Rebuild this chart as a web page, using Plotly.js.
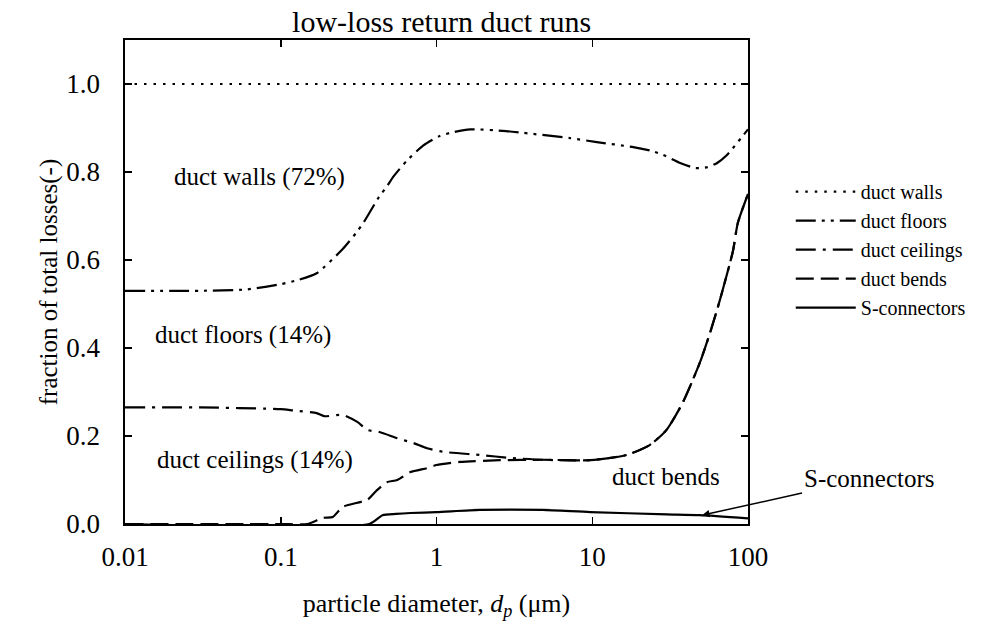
<!DOCTYPE html>
<html>
<head>
<meta charset="utf-8">
<script src="https://cdn.plot.ly/plotly-3.0.1.min.js"></script>
<style>html,body{margin:0;padding:0;background:#fff;}#chart{width:997px;height:640px;}</style>
</head>
<body>
<div id="chart"></div>
<script>
// Cumulative fraction curves
const wallsX = [0.01, 100];
const wallsY = [1.0, 1.0];

const floorsX = [0.01, 0.03, 0.06, 0.1, 0.13, 0.17, 0.25, 0.31, 0.34, 0.43, 0.48, 0.53, 0.65, 0.82, 1.05, 1.3, 1.65, 2.8, 3.6, 7.2, 10.7, 18, 24, 28.5, 37, 46, 55, 63, 73, 100];
const floorsY = [0.53, 0.53, 0.533, 0.545, 0.555, 0.57, 0.625, 0.665, 0.685, 0.745, 0.767, 0.79, 0.827, 0.86, 0.882, 0.891, 0.897, 0.893, 0.889, 0.877, 0.868, 0.857, 0.848, 0.839, 0.82, 0.809, 0.811, 0.82, 0.838, 0.897];

const ceilingsX = [0.01, 0.03, 0.1, 0.12, 0.17, 0.19, 0.25, 0.31, 0.36, 0.43, 0.56, 0.71, 0.87, 1.1, 1.9, 3, 4.8, 9.7, 16.7, 23.5, 30, 38, 49, 57, 66, 80, 86, 100];
const ceilingsY = [0.265, 0.265, 0.261, 0.258, 0.252, 0.245, 0.248, 0.232, 0.214, 0.209, 0.195, 0.184, 0.172, 0.164, 0.157, 0.15, 0.146, 0.145, 0.157, 0.18, 0.214, 0.275, 0.366, 0.434, 0.509, 0.62, 0.684, 0.75];

const bendsX = [0.01, 0.1, 0.148, 0.187, 0.216, 0.25, 0.36, 0.415, 0.48, 0.56, 0.68, 0.87, 1.0, 1.42, 2.56, 4.8, 9.7, 16.7, 23.5, 30, 38, 49, 57, 66, 80, 86, 100];
const bendsY = [0, 0, 0, 0.014, 0.016, 0.039, 0.055, 0.077, 0.095, 0.1, 0.118, 0.127, 0.134, 0.141, 0.145, 0.146, 0.145, 0.157, 0.18, 0.214, 0.275, 0.366, 0.434, 0.509, 0.62, 0.684, 0.75];

const sconnX = [0.01, 0.37, 0.45, 0.55, 0.68, 1.0, 1.9, 4.8, 9.7, 30, 49, 100];
const sconnY = [0, 0, 0.02, 0.023, 0.025, 0.027, 0.032, 0.032, 0.027, 0.022, 0.02, 0.013];

const seriesNames = ["duct walls", "duct floors", "duct ceilings", "duct bends", "S-connectors"];
const xTickVals = [0.01, 0.1, 1, 10, 100];
const xTickText = ["0.01", "0.1", "1", "10", "100"];

const FONT = "Liberation Serif, Times New Roman, serif";
const line = (dash) => ({color: "#000", width: 2.2, dash: dash, shape: "spline", smoothing: 0.6});

const traces = [
  {x: wallsX, y: wallsY, name: seriesNames[0], mode: "lines", line: line("2.5px,7px"), yaxis: "y2"},
  {x: floorsX, y: floorsY, name: seriesNames[1], mode: "lines", line: line("20px,6px,3px,6px,3px,6px")},
  {x: ceilingsX, y: ceilingsY, name: seriesNames[2], mode: "lines", line: line("20px,7px,3px,7px")},
  {x: bendsX, y: bendsY, name: seriesNames[3], mode: "lines", line: line("18px,7px")},
  {x: sconnX, y: sconnY, name: seriesNames[4], mode: "lines", line: line("solid")}
];

const yRange = [0, 1.1];

const layout = {
  width: 997, height: 640,
  paper_bgcolor: "#fff", plot_bgcolor: "#fff",
  font: {family: FONT, size: 24, color: "#000"},
  margin: {l: 100, r: 249, t: 40, b: 116},
  title: {text: "low-loss return duct runs", font: {family: FONT, size: 30, color: "#000"}, xref: "container", x: 0.443, xanchor: "center", yref: "container", y: 0.966, yanchor: "middle"},
  xaxis: {
    type: "log", range: [-2, 2], domain: [25 / 648, 1],
    tickvals: xTickVals, ticktext: xTickText,
    ticks: "inside", ticklen: 7, tickwidth: 1.5, tickcolor: "#000",
    showline: true, linecolor: "#000", linewidth: 2, mirror: "ticks",
    showgrid: false, zeroline: false,
    tickfont: {family: FONT, size: 27}, ticklabelposition: "outside", ticklabelstandoff: 8,
    title: {text: "particle diameter, <i>d</i><sub><i>p</i></sub> (μm)", font: {family: FONT, size: 26}, standoff: 22}
  },
  yaxis: {
    range: yRange, dtick: 0.2, tick0: 0,
    ticks: "inside", ticklen: 7, tickwidth: 1.5, tickcolor: "#000",
    showline: true, linecolor: "#000", linewidth: 2, mirror: "ticks",
    showgrid: false, zeroline: false, showticklabels: false
  },
  yaxis2: {
    range: yRange, dtick: 0.2, tick0: 0, tickformat: ".1f",
    overlaying: "y", anchor: "free", position: 0, side: "left",
    ticks: "", showline: false, showgrid: false, zeroline: false,
    tickfont: {family: FONT, size: 27},
    title: {text: "fraction of total losses(-)", font: {family: FONT, size: 25}, standoff: 0}
  },
  legend: {
    x: 1.066, y: 0.727, xanchor: "left", yanchor: "top",
    font: {family: FONT, size: 20}, bgcolor: "rgba(0,0,0,0)",
    tracegroupgap: 0, itemwidth: 60
  },
  annotations: [
    {x: Math.log10(0.0725), y: 0.789, xref: "x", yref: "y", text: "duct walls (72%)", showarrow: false, font: {size: 25}},
    {x: Math.log10(0.0573), y: 0.43, xref: "x", yref: "y", text: "duct floors (14%)", showarrow: false, font: {size: 25}},
    {x: Math.log10(0.0684), y: 0.145, xref: "x", yref: "y", text: "duct ceilings (14%)", showarrow: false, font: {size: 25}},
    {x: Math.log10(29.8), y: 0.107, xref: "x", yref: "y", text: "duct bends", showarrow: false, font: {size: 25}},
    {x: Math.log10(50.7), y: 0.02, xref: "x", yref: "y", ax: 167, ay: -37, text: "S-connectors", showarrow: true, arrowhead: 2, arrowsize: 1, arrowwidth: 1.5, arrowcolor: "#000", font: {size: 25}}
  ]
};

Plotly.newPlot("chart", traces, layout, {displayModeBar: false, staticPlot: true});
</script>
</body>
</html>
